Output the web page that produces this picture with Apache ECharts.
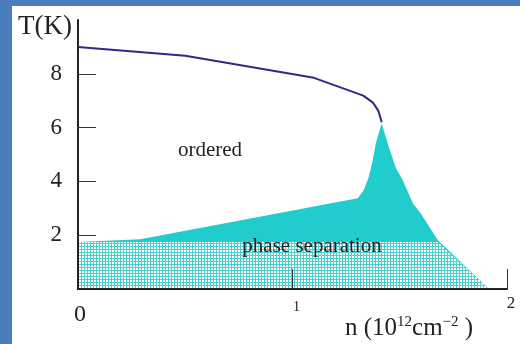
<!DOCTYPE html>
<html>
<head>
<meta charset="utf-8">
<script src="https://cdn.jsdelivr.net/npm/echarts/dist/echarts.min.js"></script>
<style>
  html, body { margin: 0; padding: 0; width: 520px; height: 344px; background: #4a7dbd; overflow: hidden; }
  #chart { position: absolute; left: 12px; top: 6px; width: 508px; height: 338px; background: #ffffff; }
</style>
</head>
<body>
<div id="chart"></div>
<script>
// Ordering temperature boundary T_c(n)
const tcN = [0, 0.5, 1.1, 1.33, 1.375, 1.40, 1.416];
const tcT = [9.0, 8.67, 7.85, 7.19, 6.93, 6.63, 6.2];

// Outer edge of the phase-separated (cyan) region
const sepN = [0, 0.29, 1.304, 1.332, 1.355, 1.374, 1.388, 1.416, 1.444, 1.481, 1.514, 1.561, 1.598, 1.678, 1.916];
const sepT = [1.75, 1.85, 3.37, 3.67, 4.15, 4.78, 5.41, 6.15, 5.41, 4.52, 4.04, 3.19, 2.81, 1.81, 0];

// Cross-hatched lower part of the phase separation region
const hatchN = [0, 1.678, 1.916];
const hatchT = [1.75, 1.75, 0];

// Axis ticks and labels
const xTicks = [1, 2];
const xLabels = [0, 1, 2];
const yTicks = [2, 4, 6, 8];

const serif = 'Liberation Serif';
const cyan = '#20cccc';

// fine grid tile for the hatched fill
function gridTile() {
  const c = document.createElement('canvas');
  c.width = 3; c.height = 3;
  const g = c.getContext('2d');
  g.fillStyle = '#ffffff';
  g.fillRect(0, 0, 3, 3);
  g.fillStyle = '#4ccfcf';
  g.fillRect(0, 0, 3, 1);
  g.fillRect(0, 0, 1, 3);
  return c;
}

const pairs = (xs, ys) => xs.map((x, i) => [x, ys[i]]);

const chart = echarts.init(document.getElementById('chart'), null, { renderer: 'canvas' });

chart.setOption({
  animation: false,
  grid: { left: 66, top: 14, right: 13, bottom: 55 },
  xAxis: {
    type: 'value', min: 0, max: 2, interval: 1, z: 10,
    splitLine: { show: false },
    axisLine: { lineStyle: { color: '#222', width: 2 } },
    axisTick: { inside: true, length: 20, customValues: xTicks, lineStyle: { color: '#333', width: 1 } },
    axisLabel: {
      customValues: xLabels,
      margin: 6,
      fontFamily: serif,
      color: '#222',
      formatter: v => v === 0 ? '{a|0}' : (v === 1 ? '{b|1}' : '{c|2}'),
      rich: {
        a: { fontSize: 24, fontFamily: serif, color: '#222', padding: [8, 0, 0, 4] },
        b: { fontSize: 14, fontFamily: serif, color: '#222', padding: [5, 0, 0, 8] },
        c: { fontSize: 17, fontFamily: serif, color: '#222', padding: [0, 0, 0, 8] }
      }
    }
  },
  yAxis: {
    type: 'value', min: 0, max: 10, interval: 2, z: 10,
    splitLine: { show: false },
    axisLine: { lineStyle: { color: '#222', width: 2 } },
    axisTick: { inside: true, length: 18, customValues: yTicks, lineStyle: { color: '#333', width: 1 } },
    axisLabel: {
      customValues: yTicks,
      margin: 16,
      fontSize: 23,
      fontFamily: serif,
      color: '#222'
    }
  },
  series: [
    {
      type: 'line',
      data: pairs(sepN, sepT),
      symbol: 'none',
      lineStyle: { width: 0 },
      areaStyle: { color: cyan, opacity: 1 },
      z: 1
    },
    {
      type: 'line',
      data: pairs(hatchN, hatchT),
      symbol: 'none',
      lineStyle: { width: 0 },
      areaStyle: { color: { image: gridTile(), repeat: 'repeat' }, opacity: 1 },
      z: 2
    },
    {
      type: 'line',
      data: pairs(tcN, tcT),
      symbol: 'none',
      lineStyle: { color: '#2e2a86', width: 2 },
      z: 3
    }
  ],
  graphic: [
    {
      type: 'text', x: 33, y: 21, z: 10,
      style: { text: 'T(K)', font: '27px "Liberation Serif"', fill: '#222', align: 'center', verticalAlign: 'middle' }
    },
    {
      type: 'text', x: 198, y: 144, z: 10,
      style: { text: 'ordered', font: '21px "Liberation Serif"', fill: '#222', align: 'center', verticalAlign: 'middle' }
    },
    {
      type: 'text', x: 300, y: 240, z: 10,
      style: { text: 'phase separation', font: '21px "Liberation Serif"', fill: '#222', align: 'center', verticalAlign: 'middle' }
    },
    {
      type: 'text', x: 333, y: 309, z: 10,
      style: {
        text: 'n (10{s|12}cm{s|\u22122} )',
        fontFamily: serif, fontSize: 25, fill: '#222',
        rich: {
          s: { fontSize: 15, fontFamily: serif, verticalAlign: 'top', lineHeight: 26 }
        }
      }
    }
  ]
});
</script>
</body>
</html>
